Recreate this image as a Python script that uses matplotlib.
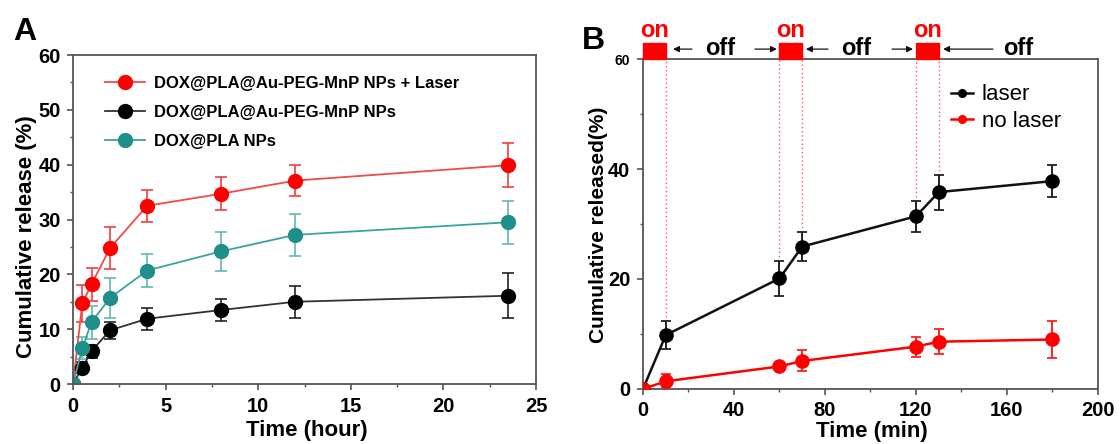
import matplotlib
matplotlib.use("Agg")
import matplotlib.pyplot as plt
from matplotlib.patches import Rectangle
from matplotlib.lines import Line2D

plt.rcParams['font.family'] = ['Liberation Sans', 'DejaVu Sans']
plt.rcParams['font.weight'] = 'bold'

# panel A data (hours)
time_h = [0, 0.5, 1, 2, 4, 8, 12, 23.5]
laser_a = [0, 14.7, 18.2, 24.8, 32.5, 34.7, 37.1, 39.9]
laser_a_err = [0, 3.4, 3.0, 3.8, 2.9, 3.0, 2.9, 4.0]
mnp = [0, 3.0, 6.0, 9.8, 11.9, 13.5, 15.0, 16.1]
mnp_err = [0, 1.0, 1.2, 1.5, 2.0, 2.0, 2.9, 4.1]
pla = [0, 6.5, 11.3, 15.7, 20.7, 24.2, 27.2, 29.5]
pla_err = [0, 2.0, 3.0, 3.6, 3.0, 3.5, 3.8, 3.9]
labels_a = ['DOX@PLA@Au-PEG-MnP NPs + Laser', 'DOX@PLA@Au-PEG-MnP NPs', 'DOX@PLA NPs']

# panel B data (minutes)
time_min = [0, 10, 60, 70, 120, 130, 180]
laser_b = [0, 9.8, 20.1, 25.9, 31.4, 35.8, 37.8]
laser_b_err = [0, 2.6, 3.2, 2.7, 2.8, 3.2, 2.9]
nolaser_b = [0, 1.4, 4.1, 5.1, 7.7, 8.6, 9.0]
nolaser_b_err = [0, 1.3, 0.6, 1.9, 1.8, 2.3, 3.4]
on_start = [0, 60, 120]
on_len = 10

fig = plt.figure(figsize=(11.2, 4.44), dpi=100)
axA = fig.add_axes([0.0652, 0.1351, 0.4134, 0.741])
axB = fig.add_axes([0.5741, 0.1239, 0.40625, 0.7432])


def style_axes(ax):
    for s in ax.spines.values():
        s.set_color('#555555')
        s.set_linewidth(1.3)
    ax.tick_params(which='major', direction='out', length=4, width=1.2,
                   color='#555555', pad=5)
    ax.tick_params(which='minor', direction='out', length=2.5, width=1.0,
                   color='#555555')
    ax.tick_params(top=False, right=False, which='both')


# ---- A ----
series = [(laser_a, laser_a_err, '#FF0000', '#F24A4A', '#F04040'),
          (mnp, mnp_err, '#000000', '#333333', '#222222'),
          (pla, pla_err, '#1E8F89', '#3AA39E', '#62B9B4')]
handles_a = []
for (y, e, mc, lc, ec), lab in zip(series, labels_a):
    axA.errorbar(time_h, y, yerr=e, errorevery=(1, 1), fmt='-o', color=lc,
                 mfc=mc, mec=mc, ms=10, lw=1.3, ecolor=ec, elinewidth=1.2,
                 capsize=4, capthick=1.2)
    handles_a.append(Line2D([], [], color=lc, lw=1.3, marker='o', ms=10,
                            mfc=mc, mec=mc, label=lab))

axA.set_xlim(0, 25)
axA.set_ylim(0, 60)
axA.set_xticks([0, 5, 10, 15, 20, 25])
axA.set_xticks([2.5, 7.5, 12.5, 17.5, 22.5], minor=True)
axA.set_yticks([0, 10, 20, 30, 40, 50, 60])
axA.set_yticks([5, 15, 25, 35, 45, 55], minor=True)
style_axes(axA)
axA.tick_params(labelsize=14.5)
plt.setp(axA.get_xticklabels() + axA.get_yticklabels(), fontweight='bold')
axA.set_xlabel('Time (hour)', fontsize=16, fontweight='bold')
axA.set_ylabel('Cumulative release (%)', fontsize=16, fontweight='bold')
axA.xaxis.set_label_coords(0.505, -0.108)
axA.yaxis.set_label_coords(-0.077, 0.447)

axA.legend(handles=handles_a, loc='upper left', bbox_to_anchor=(0.07, 0.937),
           frameon=False, fontsize=12, handlelength=2.4, handletextpad=0.5,
           labelspacing=0.85, borderpad=0, borderaxespad=0)

# ---- B ----
axB.errorbar(time_min, laser_b, yerr=laser_b_err, errorevery=(1, 1), fmt='-o',
             color='#111111', mfc='#000000', mec='#000000', ms=9.5, lw=1.8,
             ecolor='#222222', elinewidth=1.4, capsize=3.5, capthick=1.3,
             zorder=4)
axB.errorbar(time_min, nolaser_b, yerr=nolaser_b_err, errorevery=(1, 1), fmt='-o',
             color='#FF0000', mfc='#FF0000', mec='#FF0000', ms=9.5, lw=1.8,
             ecolor='#FF2020', elinewidth=1.4, capsize=3.5, capthick=1.3,
             zorder=4)

# dotted guides from the top down to the laser points at the switch times
for t, y, e in zip(time_min[1:6], laser_b[1:6], laser_b_err[1:6]):
    axB.vlines(t, y + e, 60, colors='#FF5A5A', linestyles=(0, (1, 2)), lw=1.0,
               zorder=2)

axB.set_xlim(0, 200)
axB.set_ylim(0, 60)
axB.set_xticks([0, 40, 80, 120, 160, 200])
axB.set_xticks([20, 60, 100, 140, 180], minor=True)
axB.set_yticks([0, 20, 40, 60])
axB.set_yticks([10, 30, 50], minor=True)
style_axes(axB)
axB.tick_params(labelsize=14.5)
plt.setp(axB.get_xticklabels() + axB.get_yticklabels(), fontweight='bold')
axB.get_yticklabels()[-1].set_fontsize(10)
axB.set_xlabel('Time (min)', fontsize=16, fontweight='bold')
axB.set_ylabel('Cumulative released(%)', fontsize=15, fontweight='bold')
axB.xaxis.set_label_coords(0.502, -0.097)
axB.yaxis.set_label_coords(-0.077, 0.497)

handles_b = [Line2D([], [], color='#111111', lw=1.8, marker='o', ms=5.5,
                    mfc='#000000', mec='#000000', label='laser'),
             Line2D([], [], color='#FF0000', lw=1.8, marker='o', ms=5.5,
                    mfc='#FF0000', mec='#FF0000', label='no laser')]
axB.legend(handles=handles_b, loc='upper left', bbox_to_anchor=(0.676, 0.923),
           frameon=False, prop={'size': 16, 'weight': 'normal'}, handlelength=1.0,
           handletextpad=0.4, labelspacing=0.25, borderpad=0, borderaxespad=0)

# laser on/off marks above the axes
for s in on_start:
    axB.add_patch(Rectangle((s, 60), on_len, 2.9, color='#FF0000', clip_on=False,
                            zorder=5))
    axB.text(s + on_len / 2, 64.0, 'on', color='#FF0000', fontsize=17,
             fontweight='bold', ha='center', va='baseline', clip_on=False)

arrows = [(21.5, 13.2), (49.2, 58.9), (81.3, 71.6), (109.5, 118.7), (153.8, 131.9)]
for x0, x1 in arrows:
    axB.annotate('', xy=(x1, 61.8), xytext=(x0, 61.8), annotation_clip=False,
                 arrowprops=dict(arrowstyle='-|>', color='#111111', lw=0.9,
                                 mutation_scale=9, shrinkA=0, shrinkB=0))
for x in [33.8, 93.6, 164.8]:
    axB.text(x, 60.7, 'off', fontsize=17, fontweight='bold', ha='center',
             va='baseline', clip_on=False)

fig.text(0.0223, 0.928, 'A', fontsize=23, fontweight='bold', ha='center', va='center')
fig.text(0.5295, 0.9077, 'B', fontsize=23, fontweight='bold', ha='center', va='center')

fig.savefig('out.png', dpi=100, facecolor='white')
